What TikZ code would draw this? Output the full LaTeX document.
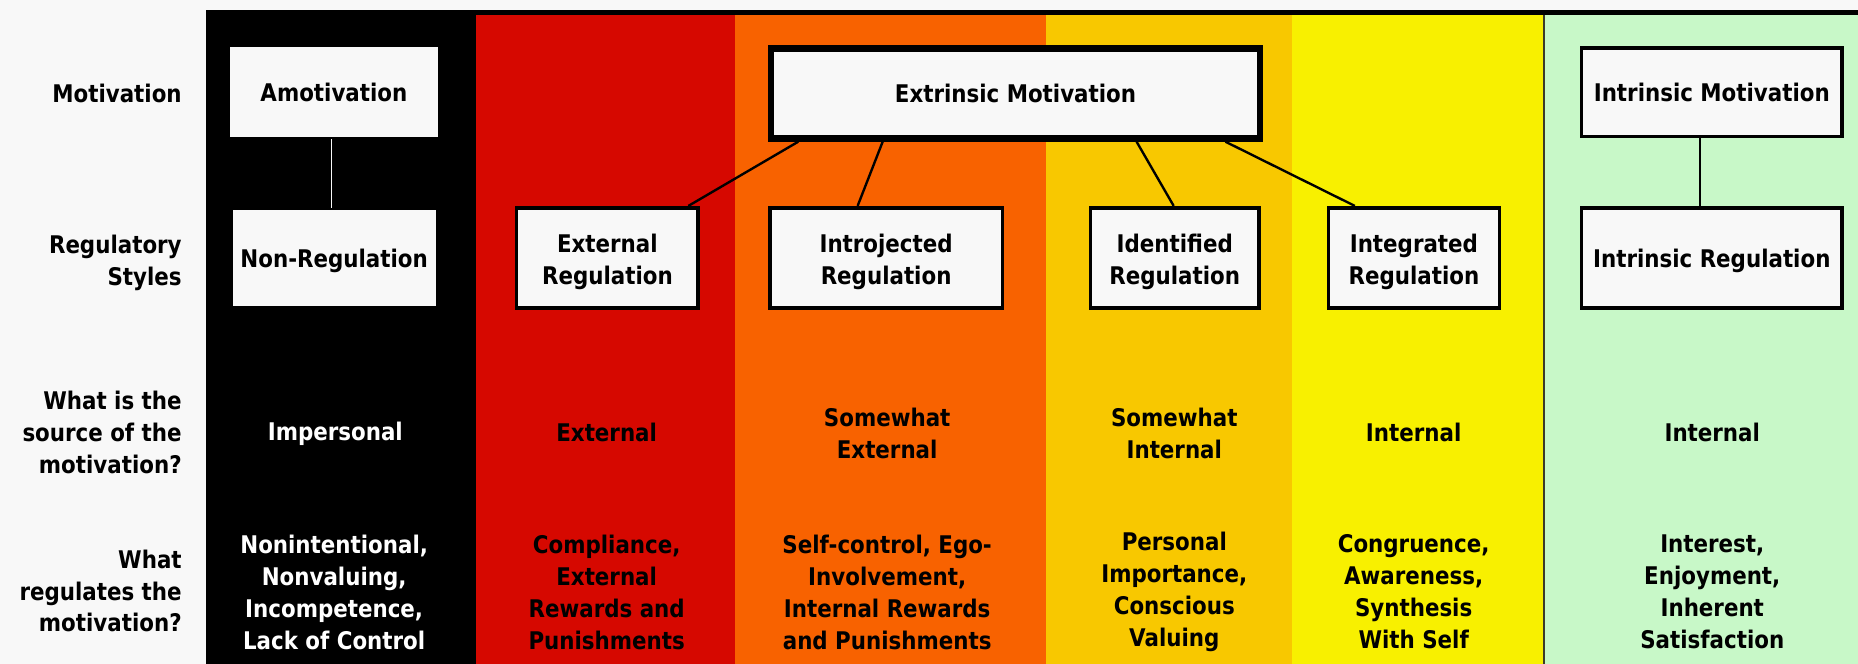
\documentclass[tikz,border=0pt]{standalone}
\usepackage{fontspec}
\setmainfont{DejaVu Sans}[FakeStretch=0.88]
\usetikzlibrary{calc}
\definecolor{bgc}{RGB}{248,248,248}
\definecolor{colred}{RGB}{214,8,0}
\definecolor{colorange}{RGB}{248,98,0}
\definecolor{colgold}{RGB}{248,200,0}
\definecolor{colyellow}{RGB}{248,240,0}
\definecolor{colgreen}{RGB}{200,248,200}
\definecolor{sepline}{RGB}{60,60,40}
\newcommand{\tallstrut}{\rule{0pt}{22pt}}
\newcommand{\midstrut}{\rule{0pt}{20pt}}
\begin{document}
\begin{tikzpicture}[x=1pt,y=-1pt,
  txt/.style={font=\bfseries\fontsize{20.5}{27}\selectfont, align=center, inner sep=0pt},
  lab/.style={txt, align=right, anchor=east},
  box/.style={txt, draw=black, line width=3pt, fill=bgc, minimum height=84.8pt},
  conn/.style={line width=2pt, draw=black}]
% background and columns
\fill[bgc] (0,0) rectangle (1568,560);
\useasboundingbox (0,0) rectangle (1568,560);
\fill[black] (174,8.4) rectangle (402,560);
\fill[black] (174,8.4) rectangle (1568,12.7);
\fill[colred] (402,12.7) rectangle (620,560);
\fill[colorange] (620,12.7) rectangle (883,560);
\fill[colgold] (883,12.7) rectangle (1090.5,560);
\fill[colyellow] (1090.5,12.7) rectangle (1302,560);
\fill[sepline] (1302,12.7) rectangle (1304,560);
\fill[colgreen] (1304,12.7) rectangle (1568,560);
% row labels
\node[lab] (l1) at (153.5,78.8) {Motivation};
\node[lab] (l2) at (153.5,220) {\midstrut Regulatory\\Styles};
\node[lab] (l3) at (153.5,365) {What is the\\source of the\\motivation?};
\node[lab] (l4) at (153.5,498.7) {What\\regulates the\\motivation?};
% boxes
\node[box, draw=none, minimum width=175.2pt, minimum height=75.9pt] (amot) at (281.8,78) {Amotivation};
\node[box, draw=none, minimum width=171.5pt, minimum height=80.8pt] (nonreg) at (282,217.6) {\midstrut Non-Regulation};
\node[box, minimum width=153.2pt] (extreg) at (512.6,217.7) {\tallstrut External\\Regulation};
\node[box, minimum width=196.1pt] (introreg) at (747.8,217.7) {\tallstrut Introjected\\Regulation};
\node[box, minimum width=142.4pt] (identreg) at (991.4,217.7) {\tallstrut Identified\\Regulation};
\node[box, minimum width=144.5pt] (integreg) at (1193.2,217.7) {\tallstrut Integrated\\Regulation};
\node[box, minimum width=220.2pt] (intrreg) at (1444.6,217.7) {\midstrut Intrinsic Regulation};
\node[box, line width=5.5pt, minimum width=412.3pt, minimum height=76.1pt] (extrmot) at (857,78.8) {Extrinsic Motivation};
\node[box, minimum width=220.2pt, minimum height=74.9pt] (intrmot) at (1444.6,77.8) {Intrinsic Motivation};
% connectors
\draw[line width=1.5pt, draw=bgc] ($(amot.south)+(-2,0)$) -- ($(amot.south |- nonreg.north)+(-2,0)$);
\draw[conn] ($(extrmot.south west)+(25.5,0)$) -- ($(extreg.north west)+(146.4,0)$);
\draw[conn] ($(extrmot.south west)+(96.8,0)$) -- ($(introreg.north west)+(75.5,0)$);
\draw[conn] ($(extrmot.south west)+(311.1,0)$) -- ($(identreg.north west)+(71.8,0)$);
\draw[conn] ($(extrmot.south west)+(386.1,0)$) -- ($(integreg.north west)+(23.95,0)$);
\draw[conn] ($(intrmot.south)+(-10,0)$) -- ($(intrreg.north)+(-10,0)$);
% column texts
\node[txt, text=white] (c1a) at (283,366) {Impersonal};
\node[txt, text=white] (c1b) at (282,499.6) {Nonintentional,\\Nonvaluing,\\Incompetence,\\Lack of Control};
\node[txt] (c2a) at (512,365) {External};
\node[txt] (c2b) at (512,499.6) {Compliance,\\External\\Rewards and\\Punishments};
\node[txt] (c3a) at (748.7,366) {Somewhat\\External};
\node[txt] (c3b) at (748.7,499.6) {Self-control, Ego-\\Involvement,\\Internal Rewards\\and Punishments};
\node[txt] (c4a) at (991,366) {Somewhat\\Internal};
\node[txt] (c4b) at (991,499.6) {Personal\\Importance,\\Conscious\\Valuing};
\node[txt] (c5a) at (1193,365) {Internal};
\node[txt] (c5b) at (1193,499.6) {Congruence,\\Awareness,\\Synthesis\\With Self};
\node[txt] (c6a) at (1445,365) {Internal};
\node[txt] (c6b) at (1445,499.6) {Interest,\\Enjoyment,\\Inherent\\Satisfaction};
\end{tikzpicture}
\end{document}
